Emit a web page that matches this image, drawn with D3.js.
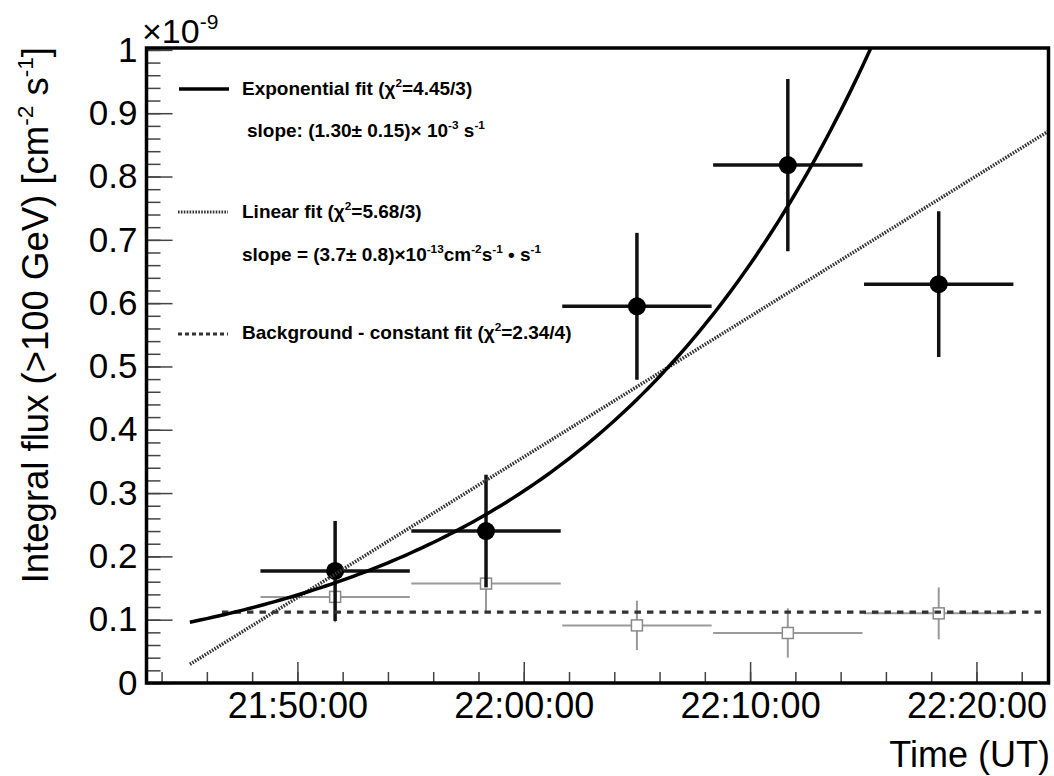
<!DOCTYPE html>
<html>
<head>
<meta charset="utf-8">
<script src="https://cdn.jsdelivr.net/npm/d3@7"></script>
<style>
body { margin: 0; background: #fff; }
text { font-family: "Liberation Sans", Helvetica, Arial, sans-serif; fill: #000; }
</style>
</head>
<body>
<script>
// flux values are in units of 1e-9 cm^-2 s^-1
var binCenters = ["21:51:40", "21:58:20", "22:05:00", "22:11:40", "22:18:20"];
var binHalfWidth = 198; // seconds
var sourceFlux = [0.177, 0.240, 0.595, 0.818, 0.630];
var sourceErr = [0.079, 0.089, 0.116, 0.136, 0.115];
var bgFlux = [0.136, 0.157, 0.091, 0.079, 0.110];
var bgErr = [0.040, 0.045, 0.039, 0.039, 0.041];

// fit parameters (time measured in seconds from 21:50:00)
var expNorm = 0.139, expSlope = 1.30e-3;
var linIntercept = 0.135, linSlope = 3.7e-13 / 1e-9;
var bgConst = 0.112;
var fitStart = "21:45:08", bgFitStart = "21:46:40", fitRef = "21:50:00";

var timeRange = ["21:43:20", "22:23:11"];
var xTickLabels = ["21:50:00", "22:00:00", "22:10:00", "22:20:00"];
var yTicks = [0, 0.1, 0.2, 0.3, 0.4, 0.5, 0.6, 0.7, 0.8, 0.9, 1];

var W = 1054, H = 776;
var plot = { left: 146.5, right: 1048.5, top: 48, bottom: 683 };

var parseT = d3.timeParse("%H:%M:%S");
var ref = parseT(fitRef);
function secs(d) { return (d - ref) / 1000; }

var svg = d3.select("body").append("svg")
    .attr("width", W)
    .attr("height", H)
    .style("background", "#fff");

var x = d3.scaleTime()
    .domain(timeRange.map(parseT))
    .range([plot.left, plot.right]);
var y = d3.scaleLinear()
    .domain([0, 1.003])
    .range([plot.bottom, plot.top]);

svg.append("clipPath").attr("id", "clip")
    .append("rect")
    .attr("x", plot.left).attr("y", plot.top)
    .attr("width", plot.right - plot.left)
    .attr("height", plot.bottom - plot.top);

// axes
var xMinor = svg.append("g")
    .attr("transform", "translate(0," + plot.bottom + ")")
    .call(d3.axisBottom(x).ticks(d3.timeMinute.every(2)).tickSize(-11).tickFormat(""));
var xMajor = svg.append("g")
    .attr("transform", "translate(0," + plot.bottom + ")")
    .call(d3.axisBottom(x).tickValues(xTickLabels.map(parseT)).tickSize(-21).tickPadding(9)
        .tickFormat(d3.timeFormat("%H:%M:%S")));
var yMinor = svg.append("g")
    .attr("transform", "translate(" + plot.left + ",0)")
    .call(d3.axisLeft(y).tickValues(y.ticks(50).filter(function(d) { return d <= 1; })).tickSize(-14).tickFormat(""));
var yMajor = svg.append("g")
    .attr("transform", "translate(" + plot.left + ",0)")
    .call(d3.axisLeft(y).tickValues(yTicks).tickSize(-26).tickPadding(9).tickFormat(d3.format(".1~f")));

svg.selectAll(".domain").remove();
svg.selectAll(".tick line").attr("stroke", "#444").attr("stroke-width", 1.5);
xMajor.selectAll("text").style("font-size", "36px").attr("fill", "#000");
yMajor.selectAll("text").style("font-size", "35px").attr("fill", "#000");

// background (off-source) points
var bgPts = svg.append("g").selectAll("g")
    .data(binCenters.map(function(c, i) { return { t: parseT(c), v: bgFlux[i], e: bgErr[i] }; }))
    .enter().append("g");
bgPts.append("line")
    .attr("x1", function(d) { return x(d3.timeSecond.offset(d.t, -binHalfWidth)); })
    .attr("x2", function(d) { return x(d3.timeSecond.offset(d.t, binHalfWidth)); })
    .attr("y1", function(d) { return y(d.v); })
    .attr("y2", function(d) { return y(d.v); })
    .attr("stroke", "#9a9a9a").attr("stroke-width", 2);
bgPts.append("line")
    .attr("x1", function(d) { return x(d.t); })
    .attr("x2", function(d) { return x(d.t); })
    .attr("y1", function(d) { return y(d.v - d.e); })
    .attr("y2", function(d) { return y(d.v + d.e); })
    .attr("stroke", "#9a9a9a").attr("stroke-width", 2);
bgPts.append("rect")
    .attr("x", function(d) { return x(d.t) - 5.5; })
    .attr("y", function(d) { return y(d.v) - 5.5; })
    .attr("width", 11).attr("height", 11)
    .attr("fill", "#fff").attr("stroke", "#8a8a8a").attr("stroke-width", 1.5);

// source points
var srcPts = svg.append("g").selectAll("g")
    .data(binCenters.map(function(c, i) { return { t: parseT(c), v: sourceFlux[i], e: sourceErr[i] }; }))
    .enter().append("g");
srcPts.append("line")
    .attr("x1", function(d) { return x(d3.timeSecond.offset(d.t, -binHalfWidth)); })
    .attr("x2", function(d) { return x(d3.timeSecond.offset(d.t, binHalfWidth)); })
    .attr("y1", function(d) { return y(d.v); })
    .attr("y2", function(d) { return y(d.v); })
    .attr("stroke", "#111").attr("stroke-width", 3.5);
srcPts.append("line")
    .attr("x1", function(d) { return x(d.t); })
    .attr("x2", function(d) { return x(d.t); })
    .attr("y1", function(d) { return y(d.v - d.e); })
    .attr("y2", function(d) { return y(d.v + d.e); })
    .attr("stroke", "#111").attr("stroke-width", 3.5);
srcPts.append("circle")
    .attr("cx", function(d) { return x(d.t); })
    .attr("cy", function(d) { return y(d.v); })
    .attr("r", 9)
    .attr("fill", "#000");

// fit curves
var tEnd = x.domain()[1];
var fitTimes = d3.timeSecond.every(15).range(parseT(fitStart), tEnd).concat([tEnd]);
var line = d3.line()
    .x(function(d) { return x(d.t); })
    .y(function(d) { return y(d.v); });
var fits = svg.append("g").attr("clip-path", "url(#clip)");

fits.append("path")
    .datum([parseT(bgFitStart), tEnd].map(function(t) { return { t: t, v: bgConst }; }))
    .attr("d", line)
    .attr("fill", "none").attr("stroke", "#333").attr("stroke-width", 3.2)
    .attr("stroke-dasharray", "6.5,6");

fits.append("path")
    .datum(fitTimes.map(function(t) { return { t: t, v: linIntercept + linSlope * secs(t) }; }))
    .attr("d", line)
    .attr("fill", "none").attr("stroke", "#333").attr("stroke-width", 3.5)
    .attr("stroke-dasharray", "1.6,1.3");

fits.append("path")
    .datum(fitTimes.map(function(t) { return { t: t, v: Math.min(1.2, expNorm * Math.exp(expSlope * secs(t))) }; }))
    .attr("d", line)
    .attr("fill", "none").attr("stroke", "#000").attr("stroke-width", 3.5);

// frame
svg.append("rect")
    .attr("x", plot.left).attr("y", plot.top)
    .attr("width", plot.right - plot.left)
    .attr("height", plot.bottom - plot.top)
    .attr("fill", "none").attr("stroke", "#000").attr("stroke-width", 3.5);

// text with superscripts; dy on each tspan is relative to the previous one
function richText(g, px, py, size, parts, weight) {
    var t = g.append("text")
        .attr("x", px).attr("y", py)
        .style("font-size", size + "px")
        .style("font-weight", weight || "normal");
    var cur = 0, up = size * 0.4;
    parts.forEach(function(p) {
        if (typeof p === "string") {
            t.append("tspan").attr("dy", -cur).text(p);
            cur = 0;
        } else {
            t.append("tspan").attr("dy", -up - cur)
                .style("font-size", (size * 0.62) + "px").text(p.sup);
            cur = -up;
        }
    });
    return t;
}

// legend
var leg = svg.append("g");
leg.append("line").attr("x1", 179).attr("x2", 229).attr("y1", 89).attr("y2", 89)
    .attr("stroke", "#000").attr("stroke-width", 3.5);
leg.append("line").attr("x1", 178).attr("x2", 228).attr("y1", 212).attr("y2", 212)
    .attr("stroke", "#333").attr("stroke-width", 3).attr("stroke-dasharray", "1.6,1.3");
leg.append("line").attr("x1", 178).attr("x2", 228).attr("y1", 334).attr("y2", 334)
    .attr("stroke", "#333").attr("stroke-width", 3).attr("stroke-dasharray", "4,3");

richText(leg, 242, 95, 19, ["Exponential fit (\u03c7", { sup: "2" }, "=4.45/3)"], "bold");
richText(leg, 247, 137, 19, ["slope: (1.30\u00b1 0.15)\u00d7 10", { sup: "-3" }, " s", { sup: "-1" }], "bold");
richText(leg, 242, 218, 19, ["Linear fit (\u03c7", { sup: "2" }, "=5.68/3)"], "bold");
richText(leg, 242, 261, 19, ["slope = (3.7\u00b1 0.8)\u00d710", { sup: "-13" }, "cm", { sup: "-2" }, "s", { sup: "-1" }, " \u2022 s", { sup: "-1" }], "bold");
richText(leg, 242, 339, 19, ["Background - constant fit (\u03c7", { sup: "2" }, "=2.34/4)"], "bold");

// axis titles
richText(svg, 142, 43, 34, ["\u00d710", { sup: "-9" }]);

richText(svg, 0, 0, 36.5, ["Integral flux (>100 GeV) [cm", { sup: "-2" }, " s", { sup: "-1" }, "]"])
    .attr("text-anchor", "end")
    .attr("transform", "translate(48,47) rotate(-90)");

svg.append("text")
    .attr("x", 1050).attr("y", 767)
    .attr("text-anchor", "end")
    .style("font-size", "36px")
    .text("Time (UT)");
</script>
</body>
</html>
